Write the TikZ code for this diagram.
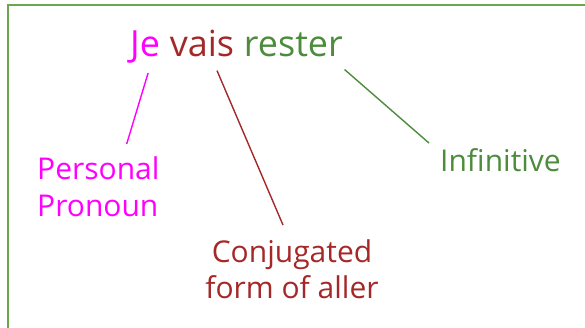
\documentclass[tikz,border=0pt]{standalone}
\usepackage{fontspec}
\setmainfont{Open Sans}
\definecolor{pronpink}{HTML}{FF00FF}
\definecolor{verbred}{HTML}{A52828}
\definecolor{infgreen}{HTML}{4C8C3C}
\definecolor{framegreen}{HTML}{6AA84F}
\begin{document}
\begin{tikzpicture}[x=1pt, y=-1pt]
   \tikzstyle{word} = [inner sep=0pt, anchor=base west, font=\fontsize{36}{43}\selectfont]
   \tikzstyle{label} = [inner sep=0pt, align=center, font=\fontsize{30}{36.7}\selectfont]
   \tikzstyle{line} = [draw, line width=1.4pt]
   \useasboundingbox (0,0) rectangle (585,327);
   \clip (0,0) rectangle (585,327);
   \draw [framegreen, line width=2pt] (7.5,340) |- (600,4.7);

   \node [word, pronpink] (je) at (130,56) {Je};
   \node [word, verbred] (vais) at ([xshift=9.4pt]je.base east) {vais};
   \node [word, infgreen] (rester) at ([xshift=9.4pt]vais.base east) {rester};

   \node [label, pronpink, align=left, anchor=north west] (pron) at (37,157) {Personal\\Pronoun};
   \node [label, verbred, anchor=north] (conj) at (292,239) {Conjugated\\form of aller};
   \node [label, infgreen, anchor=base west] (inf) at (440,171.7) {Infinitive};

   \path [line, pronpink] ([xshift=3pt, yshift=-10pt]je.south) edge ([xshift=-33pt, yshift=13pt]pron.north east);
   \path [line, verbred] ([xshift=15pt, yshift=-14pt]vais.south) edge ([xshift=-9pt, yshift=14pt]conj.north);
   \path [line, infgreen] ([xshift=1.5pt, yshift=-13pt]rester.south east) edge ([xshift=-11pt, yshift=5.5pt]inf.north west);
\end{tikzpicture}
\end{document}
